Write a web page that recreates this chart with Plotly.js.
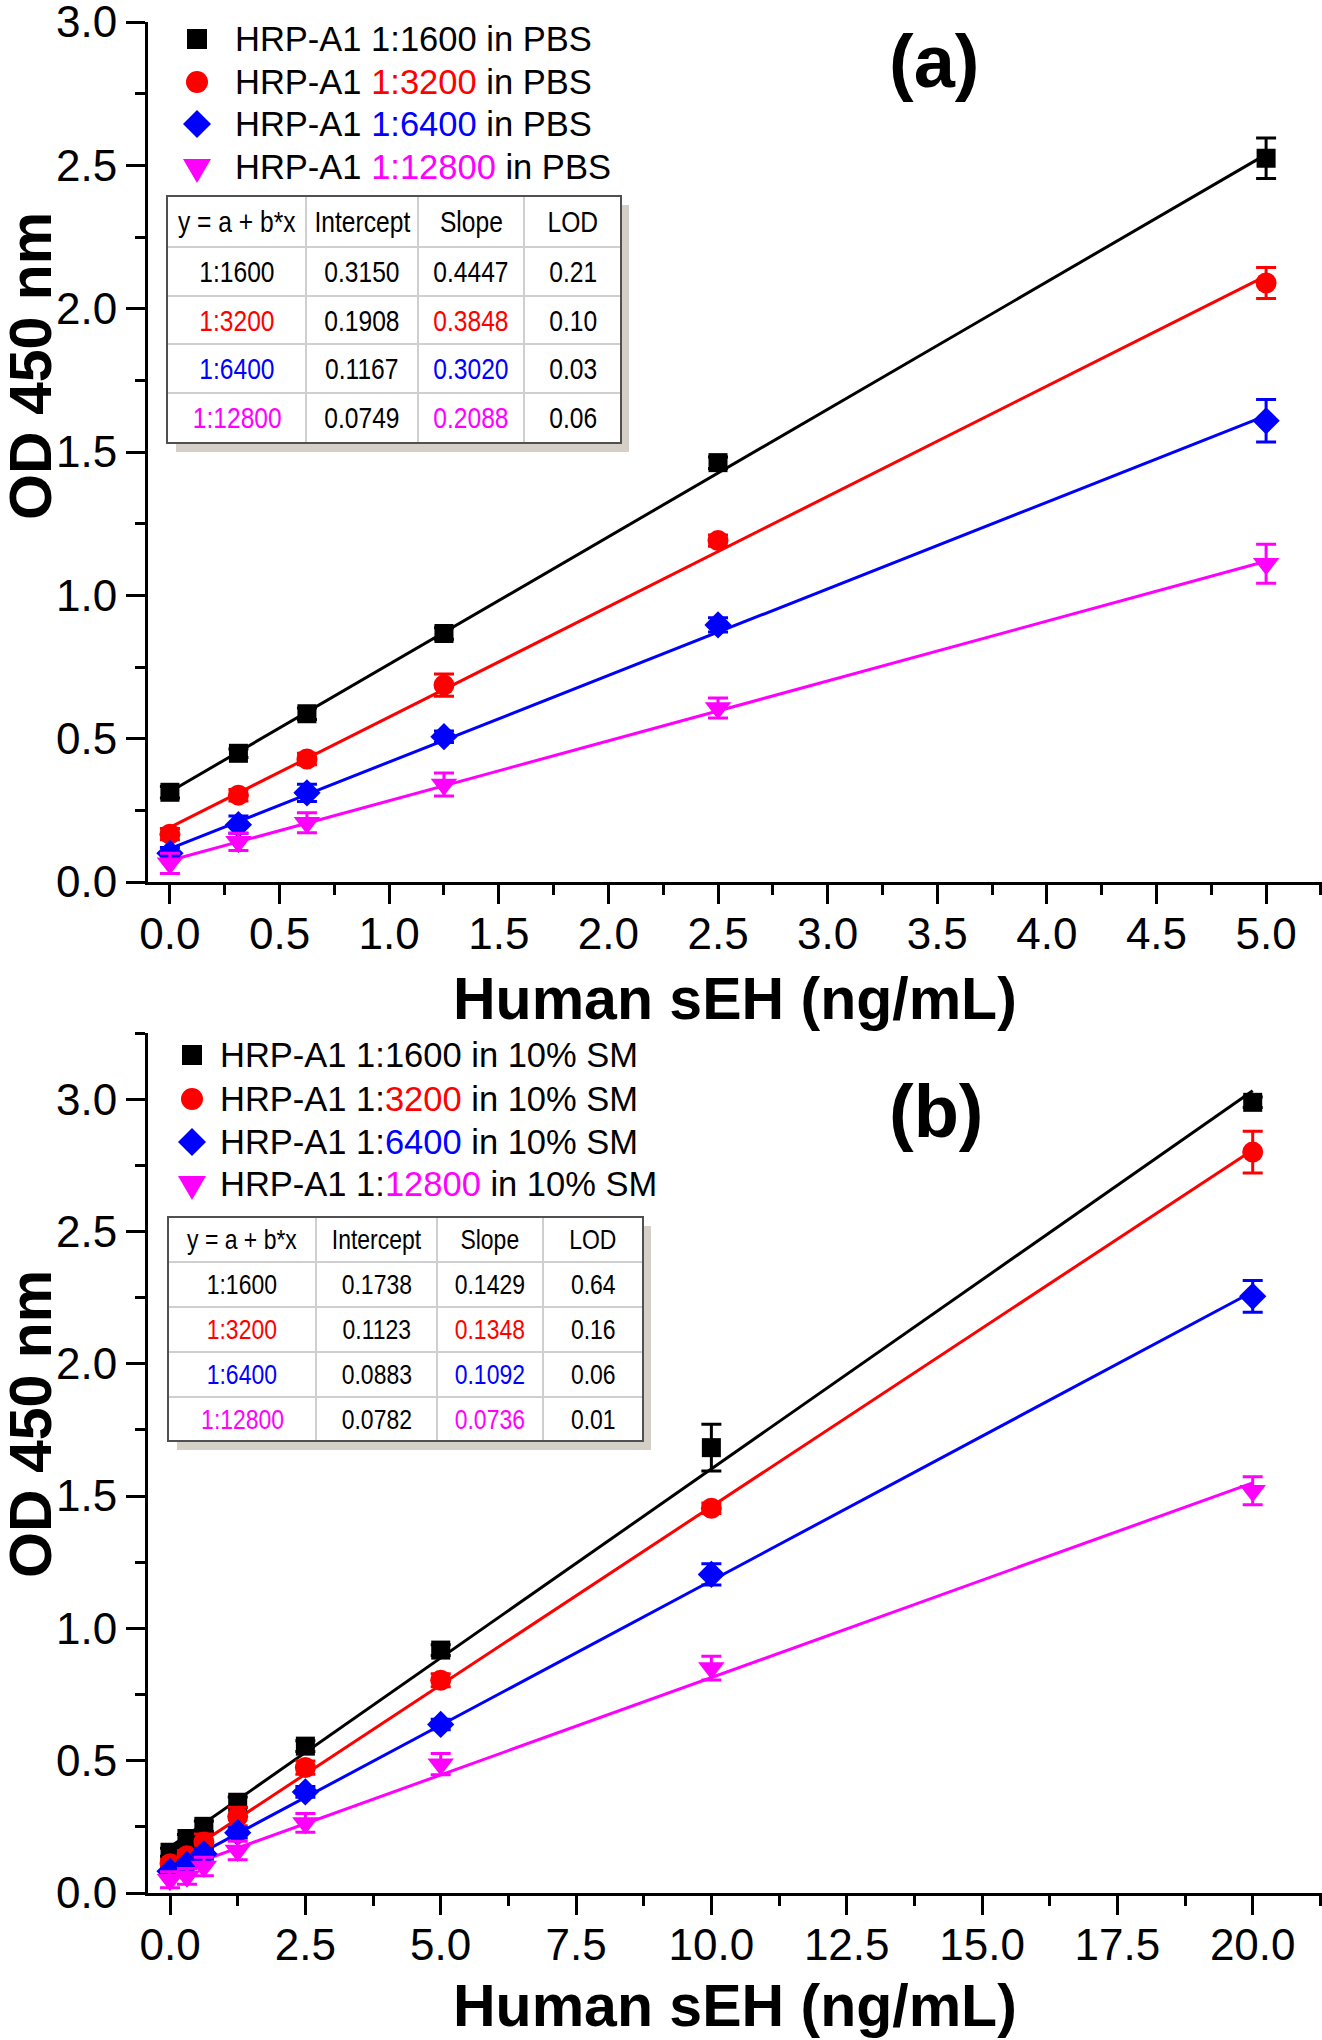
<!DOCTYPE html>
<html><head><meta charset="utf-8">
<script src="https://cdn.plot.ly/plotly-3.0.1.min.js"></script>
<style>html,body{margin:0;padding:0;background:#fff}</style>
</head><body>
<div id="chart" style="width:1322px;height:2040px"></div>
<script>
// ---------- data: panel (a), in PBS ----------
const concA = [0, 0.3125, 0.625, 1.25, 2.5, 5];
const a1600 = [0.313, 0.449, 0.587, 0.867, 1.463, 2.525];
const a1600Err = [0.02, 0.015, 0.02, 0.02, 0.02, 0.071];
const a3200 = [0.167, 0.303, 0.429, 0.687, 1.191, 2.090];
const a3200Err = [0.02, 0.02, 0.02, 0.039, 0.02, 0.054];
const a6400 = [0.100, 0.200, 0.311, 0.507, 0.897, 1.609];
const a6400Err = [0.02, 0.03, 0.03, 0.02, 0.025, 0.074];
const a12800 = [0.065, 0.140, 0.207, 0.340, 0.607, 1.110];
const a12800Err = [0.035, 0.03, 0.035, 0.04, 0.035, 0.068];

// fit table (a)
const tabAInterc = [0.3150, 0.1908, 0.1167, 0.0749];
const tabASlope = [0.4447, 0.3848, 0.3020, 0.2088];
const tabALod = [0.21, 0.10, 0.03, 0.06];

// ---------- data: panel (b), in 10% SM ----------
const concB = [0, 0.3125, 0.625, 1.25, 2.5, 5, 10, 20];
const b1600 = [0.154, 0.206, 0.252, 0.343, 0.555, 0.918, 1.683, 2.988];
const b1600Err = [0.015, 0.015, 0.02, 0.02, 0.02, 0.02, 0.088, 0.02];
const b3200 = [0.111, 0.141, 0.193, 0.289, 0.474, 0.804, 1.454, 2.800];
const b3200Err = [0.015, 0.02, 0.03, 0.035, 0.025, 0.025, 0.02, 0.079];
const b6400 = [0.082, 0.108, 0.148, 0.228, 0.382, 0.637, 1.204, 2.255];
const b6400Err = [0.01, 0.015, 0.02, 0.02, 0.02, 0.02, 0.04, 0.06];
const b12800 = [0.050, 0.063, 0.100, 0.161, 0.265, 0.487, 0.850, 1.520];
const b12800Err = [0.03, 0.03, 0.035, 0.035, 0.035, 0.04, 0.045, 0.053];

// fit table (b)
const tabBInterc = [0.1738, 0.1123, 0.0883, 0.0782];
const tabBSlope = [0.1429, 0.1348, 0.1092, 0.0736];
const tabBLod = [0.64, 0.16, 0.06, 0.01];

// labels
const dilutions = ['1:1600', '1:3200', '1:6400', '1:12800'];
const tableHeader = ['y = a + b*x', 'Intercept', 'Slope', 'LOD'];
const xTitle = 'Human sEH (ng/mL)';
const yTitle = 'OD 450 nm';
const panelLabels = ['(a)', '(b)'];

// ---------- styling ----------
const colors = ['#000000', '#ff0000', '#0000ff', '#ff00ff'];
const symbols = ['square', 'circle', 'diamond', 'triangle-down'];
const msizes = [19, 21, 21, 23];
const W = 1322, H = 2040;
const px = x => x / W;
const py = y => 1 - y / H;
const FONT = 'Liberation Sans, Arial, sans-serif';

const traces = [];
function addPanel(conc, series, errs, interc, slope, xmax, xa, ya) {
  for (let i = 0; i < 4; i++) {
    traces.push({
      x: [0, xmax], y: [interc[i], interc[i] + slope[i] * xmax],
      xaxis: xa, yaxis: ya, mode: 'lines', showlegend: false, hoverinfo: 'skip',
      line: {color: colors[i], width: 3}
    });
  }
  for (let i = 0; i < 4; i++) {
    traces.push({
      x: conc, y: series[i], xaxis: xa, yaxis: ya, mode: 'markers', showlegend: false,
      marker: {symbol: symbols[i], size: msizes[i], color: colors[i], line: {width: 0}},
      error_y: {type: 'data', array: errs[i], visible: true, color: colors[i], thickness: 3, width: 10}
    });
  }
}
addPanel(concA, [a1600, a3200, a6400, a12800], [a1600Err, a3200Err, a6400Err, a12800Err],
         tabAInterc, tabASlope, 5, 'x', 'y');
addPanel(concB, [b1600, b3200, b6400, b12800], [b1600Err, b3200Err, b6400Err, b12800Err],
         tabBInterc, tabBSlope, 20, 'x2', 'y2');

const axisBase = {
  showline: true, linewidth: 3, linecolor: '#000', ticks: 'outside', ticklen: 19, tickwidth: 3,
  tickcolor: '#000', showgrid: false, zeroline: false, automargin: false, fixedrange: true,
  ticklabeloverflow: 'allow',
  tickfont: {family: FONT, size: 44, color: '#000'}, tickformat: '.1f',
  minor: {ticks: 'outside', ticklen: 10, tickwidth: 3, tickcolor: '#000', showgrid: false}
};

const shapes = [];
const annotations = [];
const narrowIdx = new Set();

function drawTable(cols, rows, fs, interc, slope, lod) {
  const last = cols.length - 1, lr = rows.length - 1;
  shapes.push({type: 'rect', xref: 'paper', yref: 'paper', layer: 'above',
    x0: px(cols[0] + 9), x1: px(cols[last] + 8), y0: py(rows[0] + 9), y1: py(rows[lr] + 9),
    fillcolor: '#d4d0c8', line: {width: 0}});
  shapes.push({type: 'rect', xref: 'paper', yref: 'paper', layer: 'above',
    x0: px(cols[0]), x1: px(cols[last]), y0: py(rows[0]), y1: py(rows[lr]),
    fillcolor: '#ffffff', line: {width: 0}});
  for (let c = 1; c < last; c++) {
    shapes.push({type: 'line', xref: 'paper', yref: 'paper', layer: 'above',
      x0: px(cols[c]), x1: px(cols[c]), y0: py(rows[0]), y1: py(rows[lr]),
      line: {color: '#cfcfcf', width: 2}});
  }
  for (let r = 1; r < lr; r++) {
    shapes.push({type: 'line', xref: 'paper', yref: 'paper', layer: 'above',
      x0: px(cols[0]), x1: px(cols[last]), y0: py(rows[r]), y1: py(rows[r]),
      line: {color: '#cfcfcf', width: 2}});
  }
  shapes.push({type: 'rect', xref: 'paper', yref: 'paper', layer: 'above',
    x0: px(cols[0]), x1: px(cols[last]), y0: py(rows[0]), y1: py(rows[lr]),
    line: {color: '#505050', width: 2}});
  const cx = c => px((cols[c] + cols[c + 1]) / 2);
  const cy = r => py((rows[r] + rows[r + 1]) / 2);
  const cell = (c, r, text, color) => {
    narrowIdx.add(annotations.length);
    annotations.push({xref: 'paper', yref: 'paper',
      x: cx(c), y: cy(r), text: text, showarrow: false, xanchor: 'center', yanchor: 'middle',
      font: {family: FONT, size: fs, color: color}});
  };
  tableHeader.forEach((t, c) => cell(c, 0, t, '#000'));
  for (let i = 0; i < 4; i++) {
    cell(0, i + 1, dilutions[i], colors[i]);
    cell(1, i + 1, interc[i].toFixed(4), '#000');
    cell(2, i + 1, slope[i].toFixed(4), colors[i]);
    cell(3, i + 1, lod[i].toFixed(2), '#000');
  }
}
drawTable([167, 306, 418, 524, 621], [196, 247, 296, 344, 393, 443], 30, tabAInterc, tabASlope, tabALod);
drawTable([168, 316, 437, 543, 643], [1217, 1262, 1307, 1352, 1397, 1441], 28, tabBInterc, tabBSlope, tabBLod);

function legendMarker(i, cx, cy) {
  const c = colors[i];
  const P = (x, y) => px(x).toFixed(5) + ',' + py(y).toFixed(5);
  if (i === 0) shapes.push({type: 'rect', xref: 'paper', yref: 'paper', layer: 'above',
    x0: px(cx - 10), x1: px(cx + 10), y0: py(cy - 10), y1: py(cy + 10), fillcolor: c, line: {width: 0}});
  if (i === 1) shapes.push({type: 'circle', xref: 'paper', yref: 'paper', layer: 'above',
    x0: px(cx - 11), x1: px(cx + 11), y0: py(cy - 11), y1: py(cy + 11), fillcolor: c, line: {width: 0}});
  if (i === 2) shapes.push({type: 'path', xref: 'paper', yref: 'paper', layer: 'above',
    path: 'M' + P(cx, cy - 14) + 'L' + P(cx + 14, cy) + 'L' + P(cx, cy + 14) + 'L' + P(cx - 14, cy) + 'Z',
    fillcolor: c, line: {width: 0}});
  if (i === 3) shapes.push({type: 'path', xref: 'paper', yref: 'paper', layer: 'above',
    path: 'M' + P(cx - 14, cy - 8) + 'L' + P(cx + 14, cy - 8) + 'L' + P(cx, cy + 16) + 'Z',
    fillcolor: c, line: {width: 0}});
}
function drawLegend(mx, tx, rowsY, textFn) {
  for (let i = 0; i < 4; i++) {
    legendMarker(i, mx, rowsY[i]);
    annotations.push({xref: 'paper', yref: 'paper', x: px(tx), y: py(rowsY[i]), text: textFn(i),
      showarrow: false, xanchor: 'left', yanchor: 'middle', font: {family: FONT, size: 34.5, color: '#000'}});
  }
}
const span = (t, i) => i === 0 ? t : '<span style="color:' + colors[i] + '">' + t + '</span>';
drawLegend(197, 233, [39, 82, 124, 167], i => 'HRP-A1 ' + span(dilutions[i], i) + ' in PBS');
drawLegend(192, 218, [1055, 1099, 1142, 1184], i => 'HRP-A1 1:' + span(dilutions[i].slice(2), i) + ' in 10% SM');

// axis titles and panel labels
const titleFont = {family: FONT, size: 59, color: '#000'};
[[735, 999], [735, 2006]].forEach(p => annotations.push({xref: 'paper', yref: 'paper', x: px(p[0]), y: py(p[1]),
  text: '<b>' + xTitle + '</b>', showarrow: false, xanchor: 'center', yanchor: 'middle', font: titleFont}));
[[31, 366], [31, 1424]].forEach(p => annotations.push({xref: 'paper', yref: 'paper', x: px(p[0]), y: py(p[1]),
  text: '<b>' + yTitle + '</b>', textangle: -90, showarrow: false, xanchor: 'center', yanchor: 'middle', font: titleFont}));
[[934, 61], [936, 1111]].forEach((p, k) => annotations.push({xref: 'paper', yref: 'paper', x: px(p[0]), y: py(p[1]),
  text: '<b>' + panelLabels[k] + '</b>', showarrow: false, xanchor: 'center', yanchor: 'middle',
  font: {family: FONT, size: 74, color: '#000'}}));

const layout = {
  width: W, height: H, margin: {l: 0, r: 0, t: 0, b: 0}, showlegend: false,
  paper_bgcolor: '#fff', plot_bgcolor: '#fff',
  xaxis: Object.assign({}, axisBase, {domain: [px(148), 1], anchor: 'y', range: [-0.1, 5.255],
    tick0: 0, dtick: 0.5, ticklabelstandoff: -8, minor: Object.assign({}, axisBase.minor, {dtick: 0.25})}),
  yaxis: Object.assign({}, axisBase, {domain: [py(882), py(21.5)], anchor: 'x', range: [0, 3.002],
    tick0: 0, dtick: 0.5, minor: Object.assign({}, axisBase.minor, {dtick: 0.25})}),
  xaxis2: Object.assign({}, axisBase, {domain: [px(148), 1], anchor: 'y2', range: [-0.407, 21.28],
    tick0: 0, dtick: 2.5, ticklabelstandoff: -8, minor: Object.assign({}, axisBase.minor, {dtick: 1.25})}),
  yaxis2: Object.assign({}, axisBase, {domain: [py(1893), py(1033)], anchor: 'x2', range: [0, 3.25],
    tick0: 0, dtick: 0.5, minor: Object.assign({}, axisBase.minor, {dtick: 0.25})}),
  shapes: shapes, annotations: annotations
};
Plotly.newPlot('chart', traces, layout, {displayModeBar: false, staticPlot: true}).then(() => {
  // condensed look for the fit tables (reference uses a narrow face)
  document.querySelectorAll('g.annotation').forEach(g => {
    const idx = +g.getAttribute('data-index');
    if (!narrowIdx.has(idx)) return;
    const t = g.querySelector('text.annotation-text') || g.querySelector('text');
    if (!t) return;
    const w = t.getComputedTextLength();
    t.setAttribute('textLength', (w * 0.82).toFixed(1));
    t.setAttribute('lengthAdjust', 'spacingAndGlyphs');
  });
});
</script>
</body></html>
